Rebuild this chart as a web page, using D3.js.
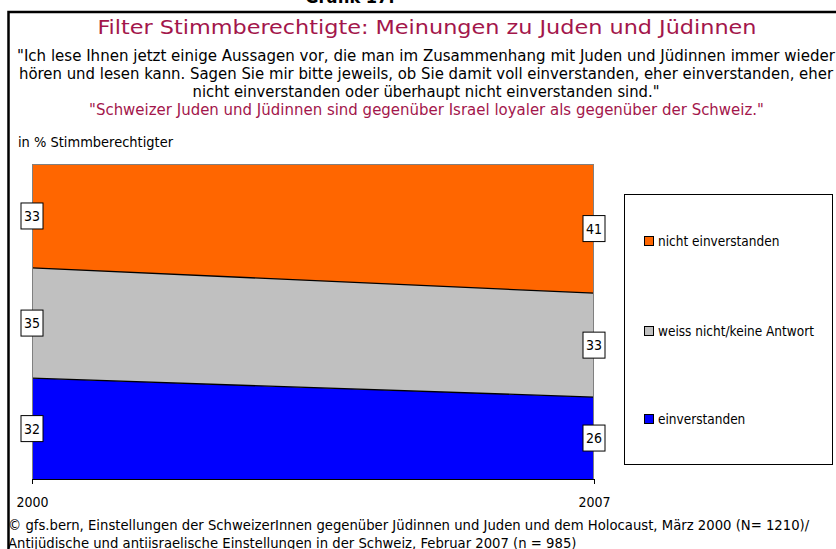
<!DOCTYPE html>
<html lang="de">
<head>
<meta charset="UTF-8">
<title>Grafik 17</title>
<script src="https://d3js.org/d3.v7.min.js"></script>
<style>
  body { margin: 0; background: #fff; }
  svg text { font-family: "DejaVu Sans Condensed", "DejaVu Sans", sans-serif; }
</style>
</head>
<body>
<svg width="836" height="549"></svg>
<script>
// data
const years = [2000, 2007];
const einverstanden = [32, 26];
const weissNicht = [35, 33];
const nichtEinverstanden = [33, 41];
const seriesNames = ["einverstanden", "weiss nicht/keine Antwort", "nicht einverstanden"];
const seriesColors = ["#0000ff", "#c0c0c0", "#ff6600"];

const titleText = "Filter Stimmberechtigte: Meinungen zu Juden und Jüdinnen";
const questionLines = [
  "\"Ich lese Ihnen jetzt einige Aussagen vor, die man im Zusammenhang mit Juden und Jüdinnen immer wieder",
  "hören und lesen kann. Sagen Sie mir bitte jeweils, ob Sie damit voll einverstanden, eher einverstanden, eher",
  "nicht einverstanden oder überhaupt nicht einverstanden sind.\""
];
const statement = "\"Schweizer Juden und Jüdinnen sind gegenüber Israel loyaler als gegenüber der Schweiz.\"";
const sourceLines = [
  "© gfs.bern, Einstellungen der SchweizerInnen gegenüber Jüdinnen und Juden und dem Holocaust, März 2000 (N= 1210)/",
  "Antijüdische und antiisraelische Einstellungen in der Schweiz, Februar 2007 (n = 985)"
];

const svg = d3.select("svg");
const crimson = "#a3164b";

// outer frame
svg.append("rect")
  .attr("x", 8.5).attr("y", 12)
  .attr("width", 900).attr("height", 600)
  .attr("fill", "none").attr("stroke", "#000").attr("stroke-width", 2.5);

svg.append("text")
  .attr("x", 350).attr("y", 3)
  .attr("text-anchor", "middle")
  .attr("font-weight", "bold").attr("font-size", 18)
  .text("Grafik 17:");

// headings
svg.append("text")
  .attr("x", 427).attr("y", 34)
  .attr("text-anchor", "middle")
  .attr("font-size", 20).attr("fill", crimson)
  .attr("textLength", 659).attr("lengthAdjust", "spacingAndGlyphs")
  .text(titleText);

const qWidths = [818, 814, 467];
questionLines.forEach((t, i) => {
  svg.append("text")
    .attr("x", 426).attr("y", 61 + i * 18)
    .attr("text-anchor", "middle")
    .attr("font-size", 15).attr("fill", "#000")
    .attr("textLength", qWidths[i]).attr("lengthAdjust", "spacingAndGlyphs")
    .text(t);
});

svg.append("text")
  .attr("x", 426.5).attr("y", 115)
  .attr("text-anchor", "middle")
  .attr("font-size", 15).attr("fill", crimson)
  .attr("textLength", 675).attr("lengthAdjust", "spacingAndGlyphs")
  .text(statement);

svg.append("text")
  .attr("x", 18).attr("y", 147)
  .attr("font-size", 13.5)
  .attr("textLength", 155).attr("lengthAdjust", "spacingAndGlyphs")
  .text("in % Stimmberechtigter");

// chart
const plot = {left: 32, right: 594, top: 164, bottom: 479};

const x = d3.scaleLinear().domain(d3.extent(years)).range([plot.left, plot.right]);
const y = d3.scaleLinear().domain([0, 100]).range([plot.bottom, plot.top]);

const table = years.map((yr, i) => ({
  year: yr,
  [seriesNames[0]]: einverstanden[i],
  [seriesNames[1]]: weissNicht[i],
  [seriesNames[2]]: nichtEinverstanden[i]
}));

const stacked = d3.stack().keys(seriesNames)(table);

const area = d3.area()
  .x(d => x(d.data.year))
  .y0(d => y(d[0]))
  .y1(d => y(d[1]));

svg.append("g").selectAll("path")
  .data(stacked)
  .join("path")
  .attr("d", area)
  .attr("fill", (d, i) => seriesColors[i]);

// boundary lines between bands
const topLine = d3.line().x(d => x(d.data.year)).y(d => y(d[1]));
svg.append("g").selectAll("path")
  .data(stacked.slice(0, 2))
  .join("path")
  .attr("d", topLine)
  .attr("fill", "none").attr("stroke", "#000").attr("stroke-width", 1.3);

// plot frame
svg.append("path")
  .attr("d", `M${plot.left + 0.5},${plot.bottom}V${plot.top + 0.5}H${plot.right - 0.5}V${plot.bottom}`)
  .attr("fill", "none").attr("stroke", "#808080").attr("stroke-width", 1);

// x axis
svg.append("g")
  .attr("transform", `translate(0,${plot.bottom})`)
  .call(d3.axisBottom(x).tickValues(years).tickFormat(d3.format("d")).tickSize(5).tickSizeOuter(0))
  .call(g => g.select(".domain").attr("stroke", "#000"))
  .call(g => g.selectAll(".tick line").attr("stroke", "#000"))
  .call(g => g.selectAll(".tick text")
    .attr("y", 0).attr("dy", 0)
    .attr("transform", "translate(0,28)")
    .attr("font-size", 14).attr("fill", "#000")
    .attr("font-family", "DejaVu Sans Condensed, DejaVu Sans, sans-serif"));

// data labels
const labels = [];
stacked.forEach(s => s.forEach(d => labels.push({year: d.data.year, mid: (d[0] + d[1]) / 2, value: d[1] - d[0]})));

const lab = svg.append("g").selectAll("g")
  .data(labels)
  .join("g")
  .attr("transform", d => `translate(${x(d.year)},${y(d.mid)})`);

lab.append("rect")
  .attr("x", -11).attr("y", -13)
  .attr("width", 22).attr("height", 26)
  .attr("fill", "#fff").attr("stroke", "#000").attr("stroke-width", 1);

lab.append("text")
  .attr("text-anchor", "middle").attr("dy", "0.36em")
  .attr("font-size", 14)
  .text(d => d.value);

// legend
svg.append("rect")
  .attr("x", 624.5).attr("y", 194.5)
  .attr("width", 208).attr("height", 270)
  .attr("fill", "#fff").attr("stroke", "#000").attr("stroke-width", 1);

const legendOrder = [2, 1, 0];
const legendY = [241, 331, 419];
const leg = svg.append("g").selectAll("g")
  .data(legendOrder)
  .join("g")
  .attr("transform", (d, i) => `translate(644,${legendY[i]})`);

leg.append("rect")
  .attr("x", 0.5).attr("y", -4.5)
  .attr("width", 9).attr("height", 9)
  .attr("fill", d => seriesColors[d]).attr("stroke", "#000").attr("stroke-width", 1);

leg.append("text")
  .attr("x", 14).attr("dy", "0.36em")
  .attr("font-size", 13.5)
  .text(d => seriesNames[d]);

// source - size both lines so the first one spans the measured width
const src = svg.append("g").selectAll("text")
  .data(sourceLines)
  .join("text")
  .attr("x", 8).attr("y", (d, i) => 530 + i * 18)
  .attr("font-size", 14)
  .text(d => d);
const natural = src.node().getComputedTextLength();
src.attr("font-size", 14 * 802 / natural);
</script>
</body>
</html>
